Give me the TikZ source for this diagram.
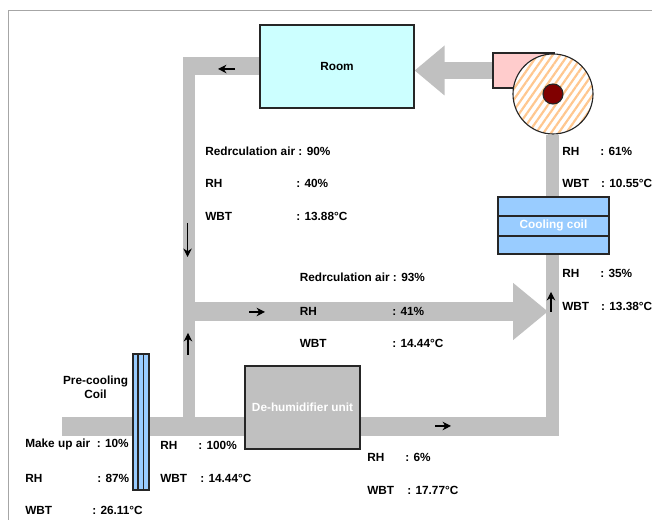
\documentclass[tikz,border=0pt]{standalone}
\usepackage{fontspec}
\setmainfont{Liberation Sans}
\usetikzlibrary{arrows.meta, backgrounds, patterns.meta}

\definecolor{ductgray}{HTML}{C0C0C0}
\definecolor{roomcyan}{HTML}{CCFFFF}
\definecolor{coilblue}{HTML}{99CCFF}
\definecolor{housingpink}{HTML}{FFCCCC}
\definecolor{hatchorange}{HTML}{FFC78F}
\definecolor{hubred}{HTML}{800000}

\tikzset{
    unit/.style={draw=black!85, line width=0.8pt, inner sep=0pt, font=\fontsize{8.4}{10}\selectfont\bfseries},
    duct/.style={draw=ductgray},
    flow/.style={-{Stealth[length=6pt,width=6pt]}, line width=0.8pt},
    lbl/.style={anchor=west, inner sep=0pt, font=\fontsize{8.4}{10}\selectfont\bfseries}
}

\begin{document}
\begin{tikzpicture}
        \useasboundingbox (0, 0) rectangle (16.3, 13);

        % ---------------------------------------------------
        % 1. Frame
        % ---------------------------------------------------
        \coordinate (frameBottom) at (0.21, 0);
        \coordinate (frameCorner) at (0.21, 12.73);
        \coordinate (frameRight) at (16.3, 12.73);
        \draw[black!35, line width=0.8pt] (frameBottom) -- (frameCorner) -- (frameRight);

        % ---------------------------------------------------
        % 2. Units
        % ---------------------------------------------------

        % Room
        \node[unit, fill=roomcyan, minimum width=3.85cm, minimum height=2.075cm] (room) at (8.425, 11.3375) {Room};

        % Fan housing and wheel
        \node[unit, fill=housingpink, minimum width=1.525cm, minimum height=0.875cm] (housing) at (13.0875, 11.2375) {};
        \node[unit, circle, minimum size=2cm, preaction={fill=white},
              pattern={Lines[angle=55, distance=0.155cm, line width=0.055cm]}, pattern color=hatchorange] (fan) at (13.825, 10.65) {};
        \node[unit, circle, fill=hubred, minimum size=0.5cm] (hub) at (fan.center) {};

        % Cooling coil, three rows
        \node[unit, fill=coilblue, text=white, minimum width=2.775cm, minimum height=1.425cm] (coil) at (13.8375, 7.3625) {Cooling coil};
        \foreach \y in {7.6, 7.1} {
            \draw[black!85, line width=0.8pt] (coil.west |- 0, \y) -- (coil.east |- 0, \y);
        }

        % Pre-cooling coil, three columns
        \node[unit, fill=coilblue, minimum width=0.4cm, minimum height=3.4cm] (preCoil) at (3.525, 2.45) {};
        \foreach \x in {3.45, 3.5875} {
            \draw[black!85, line width=0.8pt] (preCoil.north -| \x, 0) -- (preCoil.south -| \x, 0);
        }

        % De-humidifier
        \node[unit, fill=ductgray, text=white, minimum width=2.875cm, minimum height=2.075cm] (dehumid) at (7.5625, 2.8125) {De-humidifier unit};

        % ---------------------------------------------------
        % 3. Ducts (behind the units)
        % ---------------------------------------------------
        \coordinate (topCorner) at (4.575, 11.3375);
        \coordinate (leftTop) at (4.725, 11.55);
        \coordinate (leftLow) at (4.725, 2.4);
        \coordinate (midTee) at (4.725, 5.2125);
        \coordinate (midEnd) at (13.7, 5.2125);
        \coordinate (inlet) at (1.55, 2.3375);
        \coordinate (outletCorner) at (13.95, 2.3375);
        \coordinate (rightCorner) at (13.8125, 2.1);

        \begin{pgfonlayer}{background}
            \draw[duct, line width=0.45cm] (room.west) -- (topCorner);
            \draw[duct, line width=0.3cm] (leftTop) -- (leftLow);
            \draw[duct, line width=0.475cm] (inlet) -- (dehumid.west |- inlet);
            \draw[duct, line width=0.475cm] (dehumid.east |- inlet) -- (outletCorner);
            \draw[duct, line width=0.31cm] (fan.south -| rightCorner) -- (coil.north -| rightCorner);
            \draw[duct, line width=0.31cm] (coil.south -| rightCorner) -- (rightCorner);
            \draw[duct, line width=0.475cm, -{Triangle[length=0.875cm, width=1.375cm]}] (midTee) -- (midEnd);
            \draw[duct, line width=0.425cm, -{Triangle[length=0.75cm, width=1.2cm]}] (housing.west) -- (housing.west -| room.east);
        \end{pgfonlayer}

        % ---------------------------------------------------
        % 4. Flow arrows
        % ---------------------------------------------------
        \coordinate (flowTop) at (5.875, 11.275);
        \coordinate (flowDown) at (4.69, 7.425);
        \coordinate (flowUp) at (4.7, 4.125);
        \coordinate (flowMid) at (6.225, 5.2);
        \coordinate (flowLow) at (10.875, 2.35);
        \coordinate (flowRight) at (13.775, 5.2);

        \draw[flow] (flowTop) -- ++(-0.425, 0);
        \draw[flow] (flowDown) -- ++(0, -0.85);
        \draw[flow] (flowUp) -- ++(0, 0.55);
        \draw[flow] (flowMid) -- ++(0.4, 0);
        \draw[flow] (flowLow) -- ++(0.4, 0);
        \draw[flow] (flowRight) -- ++(0, 0.5);

        % ---------------------------------------------------
        % 5. Labels
        % ---------------------------------------------------

        % Recirculation branch, left
        \node[lbl] (recLeft) at (5.125, 9.225) {Redrculation air : 90\%};
        \node[lbl] (recLeftRH) at (5.125, 8.425) {RH};
        \node[lbl] (recLeftRHval) at (7.4, 8.425) {: 40\%};
        \node[lbl] (recLeftWBT) at (5.125, 7.6) {WBT};
        \node[lbl] (recLeftWBTval) at (7.4, 7.6) {: 13.88°C};

        % Recirculation branch, middle
        \node[lbl] (recMid) at (7.4875, 6.075) {Redrculation air : 93\%};
        \node[lbl] (recMidRH) at (7.4875, 5.225) {RH};
        \node[lbl] (recMidRHval) at (9.8, 5.225) {: 41\%};
        \node[lbl] (recMidWBT) at (7.4875, 4.425) {WBT};
        \node[lbl] (recMidWBTval) at (9.8, 4.425) {: 14.44°C};

        % Above the cooling coil
        \node[lbl] (fanRH) at (14.05, 9.225) {RH};
        \node[lbl] (fanRHval) at (15, 9.225) {: 61\%};
        \node[lbl] (fanWBT) at (14.05, 8.425) {WBT};
        \node[lbl] (fanWBTval) at (15.02, 8.425) {: 10.55°C};

        % Below the cooling coil
        \node[lbl] (coilRH) at (14.05, 6.175) {RH};
        \node[lbl] (coilRHval) at (15, 6.175) {: 35\%};
        \node[lbl] (coilWBT) at (14.05, 5.35) {WBT};
        \node[lbl] (coilWBTval) at (15.02, 5.35) {: 13.38°C};

        % Make up air
        \node[lbl, align=center, anchor=center] (preName) at (2.39, 3.325) {Pre-cooling\\Coil};
        \node[lbl] (makeUp) at (0.625, 1.9) {Make up air~ : 10\%};
        \node[lbl] (makeRH) at (0.625, 1.05) {RH};
        \node[lbl] (makeRHval) at (2.425, 1.05) {: 87\%};
        \node[lbl] (makeWBT) at (0.625, 0.25) {WBT};
        \node[lbl] (makeWBTval) at (2.3, 0.25) {: 26.11°C};

        % After the pre-cooling coil
        \node[lbl] (preRH) at (4.0, 1.875) {RH};
        \node[lbl] (preRHval) at (4.95, 1.875) {: 100\%};
        \node[lbl] (preWBT) at (4.0, 1.05) {WBT};
        \node[lbl] (preWBTval) at (5.0, 1.05) {: 14.44°C};

        % After the de-humidifier
        \node[lbl] (dryRH) at (9.175, 1.575) {RH};
        \node[lbl] (dryRHval) at (10.125, 1.575) {: 6\%};
        \node[lbl] (dryWBT) at (9.175, 0.75) {WBT};
        \node[lbl] (dryWBTval) at (10.175, 0.75) {: 17.77°C};

    \end{tikzpicture}
\end{document}
